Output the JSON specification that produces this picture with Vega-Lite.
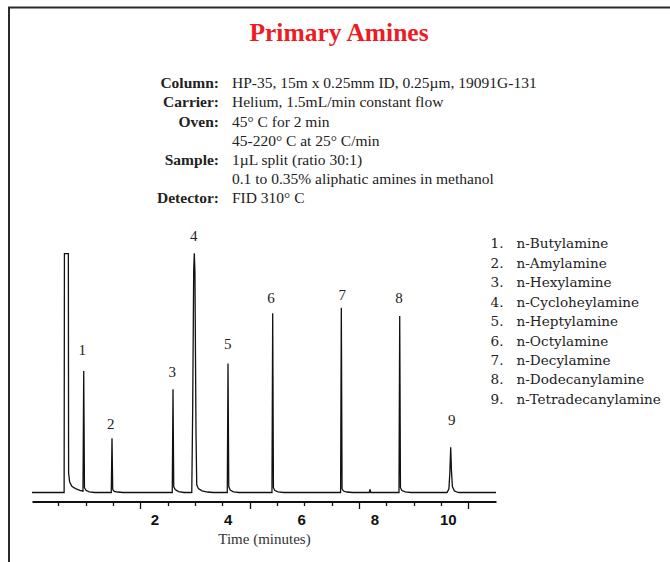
{
  "$schema": "https://vega.github.io/schema/vega-lite/v6.json",
  "autosize": "none",
  "width": 464,
  "height": 451.5,
  "padding": {"left": 32, "top": 50, "right": 174, "bottom": 60.5},
  "background": "white",
  "config": {"view": {"stroke": null}},
  "datasets": {
    "frame": [
      {"t": -1.99, "v": 202.08, "t2": 16.3, "v2": 202.08},
      {"t": -1.963, "v": 202.08, "t2": -1.963, "v2": -29.5}
    ],
    "trace": [
      {"t": -1.336, "v": 0}, {"t": -0.46, "v": 0}, {"t": -0.452, "v": 99.5}, {"t": -0.345, "v": 99.5},
      {"t": -0.338, "v": 8}, {"t": -0.31, "v": 4.5}, {"t": -0.25, "v": 2.6}, {"t": -0.15, "v": 1.6},
      {"t": -0.03, "v": 0.9}, {"t": 0.054, "v": 0.6},
      {"t": 0.074, "v": 50.6}, {"t": 0.094, "v": 2.0}, {"t": 0.134, "v": 0.9}, {"t": 0.224, "v": 0.3}, {"t": 0.374, "v": 0},
      {"t": 0.825, "v": 0}, {"t": 0.845, "v": 22.6}, {"t": 0.865, "v": 1.2}, {"t": 0.905, "v": 0.5}, {"t": 0.995, "v": 0.2}, {"t": 1.145, "v": 0},
      {"t": 2.488, "v": 0}, {"t": 2.508, "v": 43.0}, {"t": 2.528, "v": 2.5}, {"t": 2.568, "v": 1.2}, {"t": 2.658, "v": 0.4}, {"t": 2.808, "v": 0},
      {"t": 3.02, "v": 0}, {"t": 3.045, "v": 35}, {"t": 3.072, "v": 92}, {"t": 3.089, "v": 99.7}, {"t": 3.106, "v": 92},
      {"t": 3.135, "v": 25}, {"t": 3.155, "v": 3.2}, {"t": 3.2, "v": 1.6}, {"t": 3.3, "v": 0.7}, {"t": 3.45, "v": 0.2}, {"t": 3.6, "v": 0},
      {"t": 3.988, "v": 0}, {"t": 4.008, "v": 53.8}, {"t": 4.028, "v": 2.5}, {"t": 4.068, "v": 1.0}, {"t": 4.158, "v": 0.3}, {"t": 4.308, "v": 0},
      {"t": 5.206, "v": 0}, {"t": 5.226, "v": 74.7}, {"t": 5.246, "v": 2.0}, {"t": 5.286, "v": 0.8}, {"t": 5.376, "v": 0.3}, {"t": 5.526, "v": 0},
      {"t": 7.077, "v": 0}, {"t": 7.097, "v": 77.0}, {"t": 7.117, "v": 1.5}, {"t": 7.157, "v": 0.6}, {"t": 7.247, "v": 0.2}, {"t": 7.397, "v": 0},
      {"t": 7.86, "v": 0}, {"t": 7.879, "v": 1.3}, {"t": 7.9, "v": 0},
      {"t": 8.669, "v": 0}, {"t": 8.689, "v": 73.5}, {"t": 8.709, "v": 2.0}, {"t": 8.749, "v": 0.8}, {"t": 8.839, "v": 0.3}, {"t": 8.989, "v": 0},
      {"t": 9.98, "v": 0}, {"t": 10.03, "v": 1.5}, {"t": 10.055, "v": 8}, {"t": 10.079, "v": 18.8}, {"t": 10.1, "v": 9},
      {"t": 10.125, "v": 2.5}, {"t": 10.18, "v": 0.6}, {"t": 10.3, "v": 0},
      {"t": 11.314, "v": 0}
    ],
    "peaks": [
      {"t": 0.035, "v": 57.29, "peak": "1"},
      {"t": 0.81, "v": 26.33, "peak": "2"},
      {"t": 2.489, "v": 48.25, "peak": "3"},
      {"t": 3.072, "v": 104.79, "peak": "4"},
      {"t": 4.0, "v": 59.67, "peak": "5"},
      {"t": 5.18, "v": 79.08, "peak": "6"},
      {"t": 7.123, "v": 80.21, "peak": "7"},
      {"t": 8.67, "v": 79.08, "peak": "8"},
      {"t": 10.106, "v": 28.13, "peak": "9"}
    ],
    "legend": [
      {"t": 11.519, "v": 101.75, "num": "1.", "name": "n-Butylamine"},
      {"t": 11.519, "v": 93.65, "num": "2.", "name": "n-Amylamine"},
      {"t": 11.519, "v": 85.54, "num": "3.", "name": "n-Hexylamine"},
      {"t": 11.519, "v": 77.44, "num": "4.", "name": "n-Cycloheylamine"},
      {"t": 11.519, "v": 69.33, "num": "5.", "name": "n-Heptylamine"},
      {"t": 11.519, "v": 61.23, "num": "6.", "name": "n-Octylamine"},
      {"t": 11.519, "v": 53.13, "num": "7.", "name": "n-Decylamine"},
      {"t": 11.519, "v": 45.02, "num": "8.", "name": "n-Dodecanylamine"},
      {"t": 11.519, "v": 36.92, "num": "9.", "name": "n-Tetradecanylamine"}
    ],
    "header": [
      {"t": 3.762, "v": 168.42, "label": "Column:", "value": "HP-35, 15m x 0.25mm ID, 0.25µm, 19091G-131"},
      {"t": 3.762, "v": 160.44, "label": "Carrier:", "value": "Helium, 1.5mL/min constant flow"},
      {"t": 3.762, "v": 152.46, "label": "Oven:", "value": "45° C for 2 min"},
      {"t": 3.762, "v": 144.48, "label": "", "value": "45-220° C at 25° C/min"},
      {"t": 3.762, "v": 136.5, "label": "Sample:", "value": "1µL split (ratio 30:1)"},
      {"t": 3.762, "v": 128.52, "label": "", "value": "0.1 to 0.35% aliphatic amines in methanol"},
      {"t": 3.762, "v": 120.54, "label": "Detector:", "value": "FID 310° C"}
    ],
    "heading": [
      {"t": 7.034, "v": 188.25, "title": "Primary Amines"}
    ]
  },
  "encoding": {
    "x": {
      "field": "t",
      "type": "quantitative",
      "scale": {"domain": [-1.336, 11.314], "nice": false, "zero": false},
      "axis": {
        "values": [-0.62, 0.13, 0.87, 1.62, 2, 2.36, 3.11, 3.85, 4, 4.6, 5.34, 6, 6.09, 6.83, 7.58, 8, 8.32, 9.07, 9.81, 10, 10.56],
        "grid": false,
        "domainColor": "#111",
        "domainWidth": 2,
        "tickColor": "#111",
        "tickWidth": 1.3,
        "tickSize": {"condition": {"test": "indexof([1.62, 4.6, 7.58, 10.56], datum.value) >= 0", "value": 7}, "value": 4},
        "tickOpacity": {"condition": {"test": "indexof([2, 4, 6, 8, 10], datum.value) >= 0", "value": 0}, "value": 1},
        "labelExpr": "indexof([2, 4, 6, 8, 10], datum.value) >= 0 ? format(datum.value, 'd') : ''",
        "labelFont": "Liberation Sans",
        "labelFontSize": 15,
        "labelFontWeight": "bold",
        "labelColor": "#111",
        "labelPadding": 7,
        "labelOverlap": false,
        "labelBound": false,
        "labelFlush": false,
        "title": "Time (minutes)",
        "titleFont": "Liberation Serif",
        "titleFontSize": 15,
        "titleFontWeight": "normal",
        "titleColor": "#333",
        "titlePadding": 1
      }
    },
    "y": {
      "field": "v",
      "type": "quantitative",
      "scale": {"domain": [-3.75, 184.375], "nice": false, "zero": false},
      "axis": null
    }
  },
  "layer": [
    {
      "data": {"name": "frame"},
      "mark": {"type": "rule", "color": "#2b2b2b", "strokeWidth": 2},
      "encoding": {"x2": {"field": "t2"}, "y2": {"field": "v2"}}
    },
    {
      "data": {"name": "trace"},
      "mark": {"type": "line", "color": "#111", "strokeWidth": 1.3}
    },
    {
      "data": {"name": "peaks"},
      "mark": {"type": "text", "font": "Liberation Serif", "fontSize": 15, "align": "center", "baseline": "alphabetic", "color": "#222"},
      "encoding": {"text": {"field": "peak"}}
    },
    {
      "data": {"name": "legend"},
      "mark": {"type": "text", "font": "DejaVu Serif", "fontSize": 13.6, "align": "right", "baseline": "alphabetic", "color": "#222"},
      "encoding": {"text": {"field": "num"}}
    },
    {
      "data": {"name": "legend"},
      "mark": {"type": "text", "font": "DejaVu Serif", "fontSize": 13.6, "align": "left", "baseline": "alphabetic", "dx": 13, "color": "#222"},
      "encoding": {"text": {"field": "name"}}
    },
    {
      "data": {"name": "header"},
      "mark": {"type": "text", "font": "Liberation Serif", "fontSize": 15.5, "fontWeight": "bold", "align": "right", "baseline": "alphabetic", "color": "#222"},
      "encoding": {"text": {"field": "label"}}
    },
    {
      "data": {"name": "header"},
      "mark": {"type": "text", "font": "Liberation Serif", "fontSize": 15.5, "align": "left", "baseline": "alphabetic", "dx": 13, "color": "#222"},
      "encoding": {"text": {"field": "value"}}
    },
    {
      "data": {"name": "heading"},
      "mark": {"type": "text", "font": "Liberation Serif", "fontSize": 25.5, "fontWeight": "bold", "align": "center", "baseline": "alphabetic", "color": "#ed1c24"},
      "encoding": {"text": {"field": "title"}}
    }
  ]
}
